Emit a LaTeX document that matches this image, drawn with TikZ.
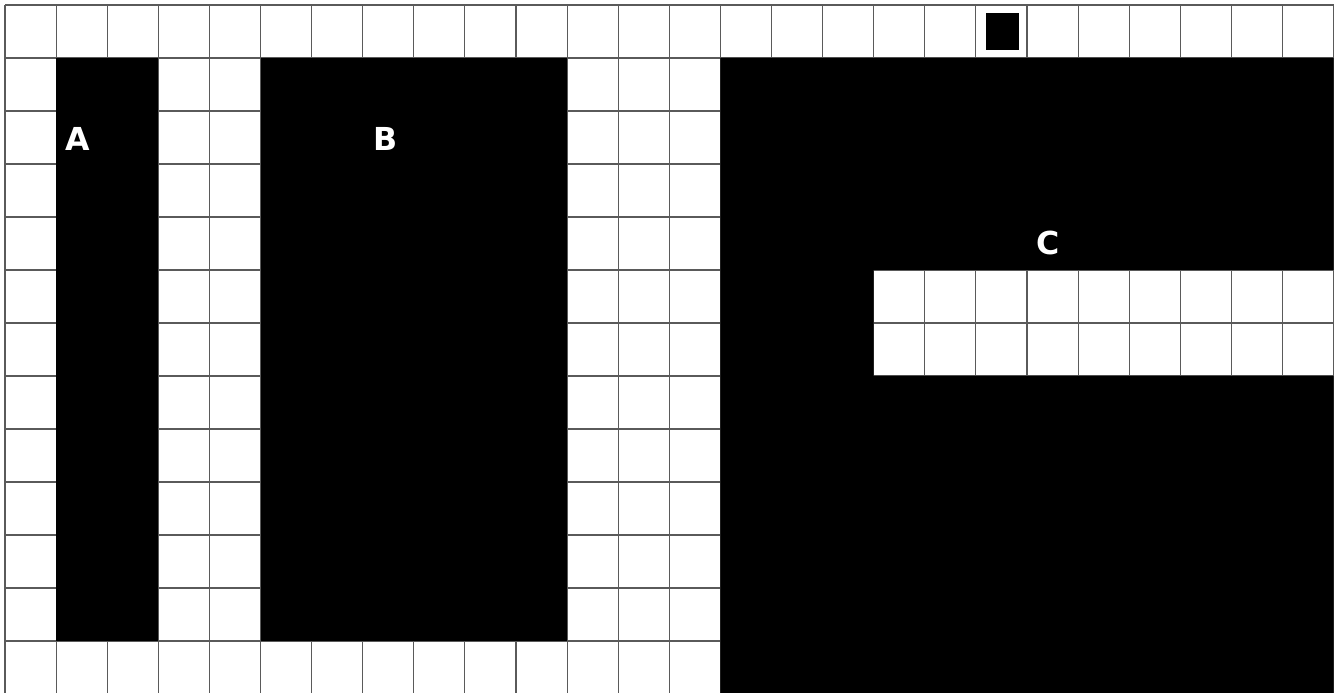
\documentclass[tikz,border=0pt]{standalone}
\usepackage{fontspec}
\setmainfont{DejaVu Sans}
\usepackage{xcolor}
\usepackage{tikz}
\usetikzlibrary{positioning}
\definecolor{cgrid}{RGB}{90,90,90}
\tikzset{
  gridln/.style={draw=cgrid, line width=0.6pt},
  blk/.style={fill=black, draw=none},
  tag/.style={text=white, font=\fontsize{18}{20}\selectfont\bfseries, inner sep=0pt},
}

\begin{document}
\begin{tikzpicture}[x=1.022cm, y=-1.06cm]
  % ── Frame ──────────────────────────────────────────────────────────────────
  \useasboundingbox (-0.098,-0.094) rectangle (26.145,12.98);
  \fill[white] (-0.098,-0.094) rectangle (26.145,12.98);

  % ── Grid ───────────────────────────────────────────────────────────────────
  \foreach \i in {0,...,26}
    \draw[gridln] (\i,0) -- (\i,12.98);
  \foreach \j in {0,...,12}
    \draw[gridln] (0,\j) -- (26,\j);

  % ── Black regions ──────────────────────────────────────────────────────────
  \fill[blk] (1,1) rectangle (3,12);
  \fill[blk] (5,1) rectangle (11,12);
  \fill[blk] (14,1) -- (26,1) -- (26,5) -- (17,5) -- (17,7) -- (26,7)
             -- (26,12.98) -- (14,12.98) -- cycle;
  \fill[blk] (19.2,0.15) rectangle (19.84,0.85);

  % ── Labels ─────────────────────────────────────────────────────────────────
  \node[tag] at (1.43,2.53) (la) {A};
  \node[tag] at (7.44,2.53) (lb) {B};
  \node[tag] at (20.41,4.49) (lc) {C};
\end{tikzpicture}
\end{document}
